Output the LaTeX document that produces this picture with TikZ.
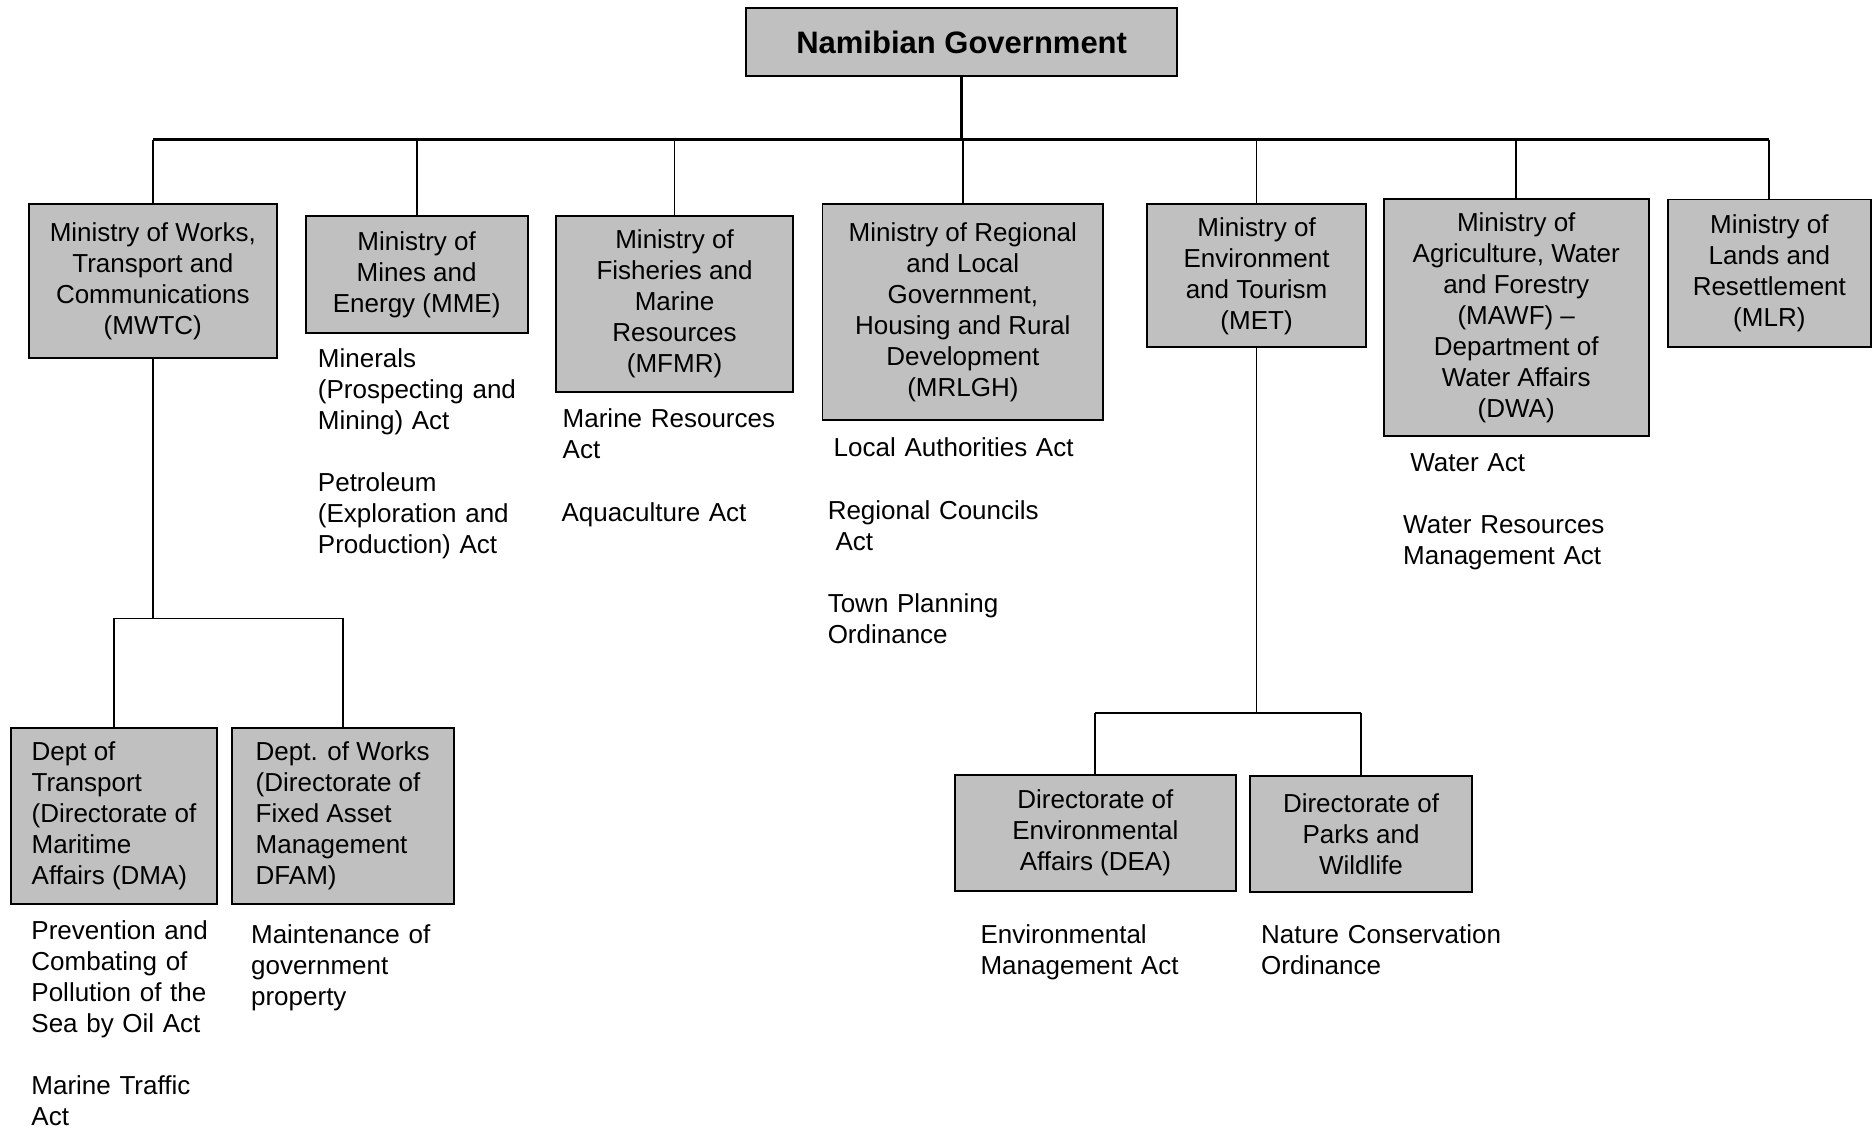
\documentclass[tikz,border=0pt]{standalone}
\usepackage{fontspec}
\setmainfont{Liberation Sans}
\definecolor{boxgray}{HTML}{C0C0C0}

\begin{document}
\begin{tikzpicture}[x=0.597pt, y=-0.597pt,
  unit/.style={draw, line width=0.9pt, fill=boxgray, inner sep=0pt, align=center, font=\fontsize{13}{15.5}\selectfont},
  dept/.style={unit, align=left},
  act/.style={anchor=base west, inner sep=0pt, text width=140pt, align=left, font=\fontsize{13}{15.5}\selectfont},
  bus/.style={line width=1.3pt},
  link/.style={line width=0.9pt}]
  \useasboundingbox (0,0) rectangle (1568,946);
  \node[unit, minimum width=215.5pt, minimum height=34pt, font=\fontsize{15.5}{18}\selectfont\bfseries] (gov) at (805.5,35.5) {Namibian Government};

  \node[unit, minimum width=124.2pt, minimum height=77pt] (mwtc) at (128,235.5) {Ministry of Works,\\Transport and\\Communications\\(MWTC)};
  \node[unit, minimum width=111pt, minimum height=58.5pt] (mme) at (349,230) {Ministry of\\Mines and\\Energy (MME)};
  \node[unit, minimum width=118.2pt, minimum height=87.8pt] (mfmr) at (565,254.5) {Ministry of\\Fisheries and\\Marine\\Resources\\(MFMR)};
  \node[unit, minimum width=140.3pt, minimum height=108pt] (mrlgh) at (806.5,261.5) {Ministry of Regional\\and Local\\Government,\\Housing and Rural\\Development\\(MRLGH)};
  \node[unit, minimum width=109.3pt, minimum height=71.6pt] (met) at (1052.5,231) {Ministry of\\Environment\\and Tourism\\(MET)};
  \node[unit, minimum width=132.5pt, minimum height=118.2pt] (mawf) at (1270,266) {Ministry of\\Agriculture, Water\\and Forestry\\(MAWF) --\\Department of\\Water Affairs\\(DWA)};
  \node[unit, minimum width=101.5pt, minimum height=74pt] (mlr) at (1482,229) {Ministry of\\Lands and\\Resettlement\\(MLR)};

  \node[dept, minimum width=103.3pt, minimum height=87.8pt] (dma) at (95.5,683.5) {Dept of\\Transport\\(Directorate of\\Maritime\\Affairs (DMA)};
  \node[dept, minimum width=111pt, minimum height=87.8pt] (dfam) at (287,683.5) {Dept. of Works\\(Directorate of\\Fixed Asset\\Management\\DFAM)};
  \node[unit, minimum width=140.3pt, minimum height=57.9pt] (dea) at (917.5,697.5) {Directorate of\\Environmental\\Affairs (DEA)};
  \node[unit, minimum width=111pt, minimum height=57.9pt] (dpw) at (1140,698.5) {Directorate of\\Parks and\\Wildlife};

  \node[act] (minerals) at (266,308) {Minerals\\(Prospecting and\\Mining) Act};
  \node[act] (petroleum) at (266,412) {Petroleum\\(Exploration and\\Production) Act};
  \node[act] (marine) at (471,358) {Marine Resources\\Act};
  \node[act] (aqua) at (470,437) {Aquaculture Act};
  \node[act] (localauth) at (698,382) {Local Authorities Act};
  \node[act] (regional) at (693,435) {Regional Councils\\\hspace*{0.3em}Act};
  \node[act] (town) at (693,513) {Town Planning\\Ordinance};
  \node[act] (water) at (1181,395) {Water Act};
  \node[act] (waterres) at (1175,447) {Water Resources\\Management Act};
  \node[act] (pollution) at (26,787) {Prevention and\\Combating of\\Pollution of the\\Sea by Oil Act};
  \node[act] (traffic) at (26,917) {Marine Traffic\\Act};
  \node[act] (property) at (210,790) {Maintenance of\\government\\property};
  \node[act] (ema) at (821,790) {Environmental\\Management Act};
  \node[act] (nco) at (1056,790) {Nature Conservation\\Ordinance};

  \coordinate (govbus) at (805.5,117);
  \draw[bus] (gov.south) -- (govbus);
  \draw[bus] (govbus -| mwtc.north) -- (govbus -| mlr.north);
  \foreach \m in {mwtc,mme,mfmr,mrlgh,met,mawf,mlr}
    \draw[link] (govbus -| \m.north) -- (\m.north);

  \coordinate (mwtcbus) at (128,518);
  \draw[link] (mwtc.south) -- (mwtcbus);
  \draw[link] (mwtcbus -| dma.north) -- (mwtcbus -| dfam.north);
  \foreach \d in {dma,dfam}
    \draw[link] (mwtcbus -| \d.north) -- (\d.north);

  \coordinate (metbus) at (1052.5,597);
  \draw[link] (met.south) -- (metbus);
  \draw[link] (metbus -| dea.north) -- (metbus -| dpw.north);
  \foreach \d in {dea,dpw}
    \draw[link] (metbus -| \d.north) -- (\d.north);
\end{tikzpicture}
\end{document}
